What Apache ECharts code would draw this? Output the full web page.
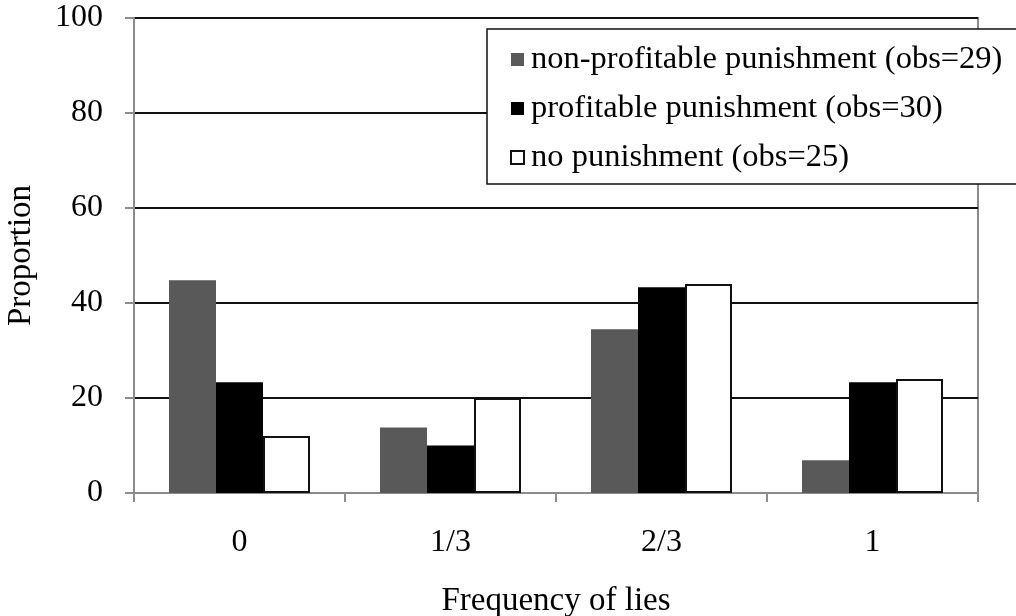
<!DOCTYPE html>
<html>
<head>
<meta charset="utf-8">
<script src="https://cdn.jsdelivr.net/npm/echarts@6/dist/echarts.min.js"></script>
<style>
html,body{margin:0;padding:0;background:#fff;}
#chart{width:1016px;height:616px;}
</style>
</head>
<body>
<div id="chart"></div>
<script>
const categories = ['0', '1/3', '2/3', '1'];
const seriesNames = ['non-profitable punishment (obs=29)', 'profitable punishment (obs=30)', 'no punishment (obs=25)'];
const nonProfitable = [44.8, 13.8, 34.5, 6.9];
const profitable = [23.3, 10.0, 43.3, 23.3];
const noPunishment = [12.0, 20.0, 44.0, 24.0];
const yTicks = [0, 20, 40, 60, 80, 100];

const FONT = '"Liberation Serif", "Times New Roman", serif';
const chart = echarts.init(document.getElementById('chart'), null, {renderer: 'canvas'});

chart.setOption({
  animation: false,
  backgroundColor: '#fff',
  textStyle: {fontFamily: FONT, color: '#000'},
  grid: {
    left: 134, right: 38, top: 18, bottom: 123,
    outerBoundsMode: 'none',
    containLabel: false,
    show: true, borderColor: '#8c8c8c', borderWidth: 2, backgroundColor: 'transparent'
  },
  legend: {
    orient: 'vertical',
    left: 487, top: 29,
    backgroundColor: '#fff',
    borderColor: '#111', borderWidth: 1.5,
    padding: [14, 60, 10, 23],
    itemWidth: 13, itemHeight: 13, itemGap: 16,
    icon: 'rect',
    textStyle: {fontFamily: FONT, fontSize: 32.5, color: '#000', lineHeight: 32, padding: [0, 0, 0, 2]},
    data: seriesNames
  },
  xAxis: {
    type: 'category',
    data: categories,
    name: 'Frequency of lies',
    nameLocation: 'middle',
    nameGap: 92,
    nameTextStyle: {fontFamily: FONT, fontSize: 33, color: '#000'},
    axisLine: {lineStyle: {color: '#8c8c8c', width: 2}},
    axisTick: {show: true, length: 9, lineStyle: {color: '#8c8c8c', width: 2}},
    axisLabel: {fontFamily: FONT, fontSize: 32, color: '#000', margin: 34},
    splitLine: {show: false}
  },
  yAxis: {
    type: 'value',
    min: 0, max: 100, interval: 20,
    name: 'Proportion',
    nameLocation: 'middle',
    nameGap: 96,
    nameRotate: 90,
    nameTextStyle: {fontFamily: FONT, fontSize: 33, color: '#000'},
    axisLine: {show: true, lineStyle: {color: '#8c8c8c', width: 2}},
    axisTick: {show: true, length: 9, lineStyle: {color: '#8c8c8c', width: 2}},
    axisLabel: {fontFamily: FONT, fontSize: 32, color: '#000', margin: 31,
      formatter: function (v) { return yTicks.indexOf(v) >= 0 ? String(v) : ''; }},
    splitLine: {show: true, lineStyle: {color: '#111', width: 2}}
  },
  series: [
    {name: seriesNames[0], type: 'bar', data: nonProfitable, barWidth: 47, barGap: '0%',
      itemStyle: {color: '#595959'}},
    {name: seriesNames[1], type: 'bar', data: profitable, barWidth: 47, barGap: '0%',
      itemStyle: {color: '#000000'}},
    {name: seriesNames[2], type: 'bar', data: noPunishment, barWidth: 47, barGap: '0%',
      itemStyle: {color: '#ffffff', borderColor: '#111', borderWidth: 2}}
  ]
});
</script>
</body>
</html>
